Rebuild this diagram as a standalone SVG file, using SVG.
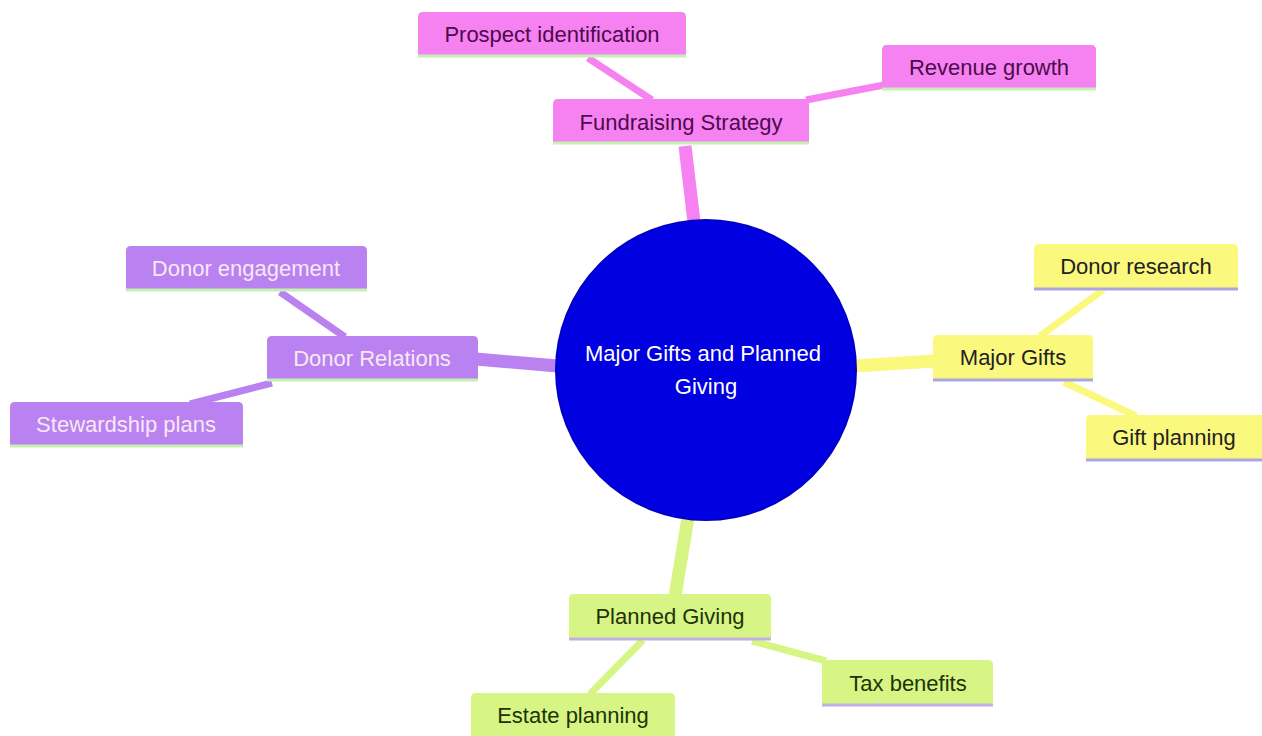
<svg xmlns="http://www.w3.org/2000/svg" width="1262" height="736" viewBox="0 0 1262 736">
<style>
text{font-family:"Liberation Sans",Arial,sans-serif;font-size:22px;text-anchor:middle;dominant-baseline:central}
.s0 .box{fill:#f582f0}.s0 text{fill:#4d0a4d}.s0 .ln{stroke:#c6f0b4}
.s1 .box{fill:#b982f0}.s1 text{fill:#f7e8f7}.s1 .ln{stroke:#c6f0b4}
.s2 .box{fill:#fbf87e}.s2 text{fill:#222222}.s2 .ln{stroke:#a9a6e0}
.s3 .box{fill:#d7f585}.s3 text{fill:#1e3308}.s3 .ln{stroke:#c2b0e0}
.ln{stroke-width:3}
.e0{stroke:#f582f0}.e1{stroke:#b982f0}.e2{stroke:#fbf87e}.e3{stroke:#d7f585}
.main{stroke-width:13}.leaf{stroke-width:7}
</style>
<g id="connectors" fill="none" stroke-linecap="butt">
<line class="e0 main" x1="685" y1="146" x2="694" y2="222"/>
<line class="e0 leaf" x1="588" y1="58" x2="652" y2="100"/>
<line class="e0 leaf" x1="806" y1="100" x2="884" y2="85"/>
<line class="e1 main" x1="476" y1="359" x2="558" y2="366"/>
<line class="e1 leaf" x1="280" y1="292" x2="345" y2="337"/>
<line class="e1 leaf" x1="272" y1="383" x2="190" y2="404"/>
<line class="e2 main" x1="854" y1="366" x2="935" y2="361"/>
<line class="e2 leaf" x1="1103" y1="290" x2="1040" y2="336"/>
<line class="e2 leaf" x1="1064" y1="382" x2="1136" y2="416"/>
<line class="e3 main" x1="688" y1="518" x2="675" y2="596"/>
<line class="e3 leaf" x1="643" y1="640" x2="590" y2="694"/>
<line class="e3 leaf" x1="752" y1="641" x2="826" y2="661"/>
</g>
<g id="root">
<circle cx="706" cy="370" r="150" fill="#0000e0" stroke="#0000c8" stroke-width="2"/>
<text x="703" y="353" fill="#ffffff">Major Gifts and Planned</text>
<text x="706" y="386" fill="#ffffff">Giving</text>
</g>
<g id="fundraising" class="s0">
<path class="box" d="M553,143 V104 q0,-5 5,-5 H804 q5,0 5,5 V143 Z"/>
<line class="ln" x1="553" y1="143" x2="809" y2="143"/>
<text x="681" y="122">Fundraising Strategy</text>
</g>
<g id="prospect" class="s0">
<path class="box" d="M418,56 V17 q0,-5 5,-5 H681 q5,0 5,5 V56 Z"/>
<line class="ln" x1="418" y1="56" x2="686" y2="56"/>
<text x="552" y="34">Prospect identification</text>
</g>
<g id="revenue" class="s0">
<path class="box" d="M882,89 V50 q0,-5 5,-5 H1091 q5,0 5,5 V89 Z"/>
<line class="ln" x1="882" y1="89" x2="1096" y2="89"/>
<text x="989" y="67">Revenue growth</text>
</g>
<g id="relations" class="s1">
<path class="box" d="M267,380 V341 q0,-5 5,-5 H473 q5,0 5,5 V380 Z"/>
<line class="ln" x1="267" y1="380" x2="478" y2="380"/>
<text x="372" y="358">Donor Relations</text>
</g>
<g id="engagement" class="s1">
<path class="box" d="M126,290 V251 q0,-5 5,-5 H362 q5,0 5,5 V290 Z"/>
<line class="ln" x1="126" y1="290" x2="367" y2="290"/>
<text x="246" y="268">Donor engagement</text>
</g>
<g id="stewardship" class="s1">
<path class="box" d="M10,446 V407 q0,-5 5,-5 H238 q5,0 5,5 V446 Z"/>
<line class="ln" x1="10" y1="446" x2="243" y2="446"/>
<text x="126" y="424">Stewardship plans</text>
</g>
<g id="majorgifts" class="s2">
<path class="box" d="M933,380 V340 q0,-5 5,-5 H1088 q5,0 5,5 V380 Z"/>
<line class="ln" x1="933" y1="380" x2="1093" y2="380"/>
<text x="1013" y="357">Major Gifts</text>
</g>
<g id="research" class="s2">
<path class="box" d="M1034,289 V249 q0,-5 5,-5 H1233 q5,0 5,5 V289 Z"/>
<line class="ln" x1="1034" y1="289" x2="1238" y2="289"/>
<text x="1136" y="266">Donor research</text>
</g>
<g id="giftplanning" class="s2">
<path class="box" d="M1086,460 V420 q0,-5 5,-5 H1262 V460 Z"/>
<line class="ln" x1="1086" y1="460" x2="1262" y2="460"/>
<text x="1174" y="437">Gift planning</text>
</g>
<g id="planned" class="s3">
<path class="box" d="M569,639 V599 q0,-5 5,-5 H766 q5,0 5,5 V639 Z"/>
<line class="ln" x1="569" y1="639" x2="771" y2="639"/>
<text x="670" y="616">Planned Giving</text>
</g>
<g id="tax" class="s3">
<path class="box" d="M822,705 V665 q0,-5 5,-5 H988 q5,0 5,5 V705 Z"/>
<line class="ln" x1="822" y1="705" x2="993" y2="705"/>
<text x="908" y="683">Tax benefits</text>
</g>
<g id="estate" class="s3">
<path class="box" d="M471,740 V698 q0,-5 5,-5 H670 q5,0 5,5 V740 Z"/>
<text x="573" y="715">Estate planning</text>
</g>
</svg>
